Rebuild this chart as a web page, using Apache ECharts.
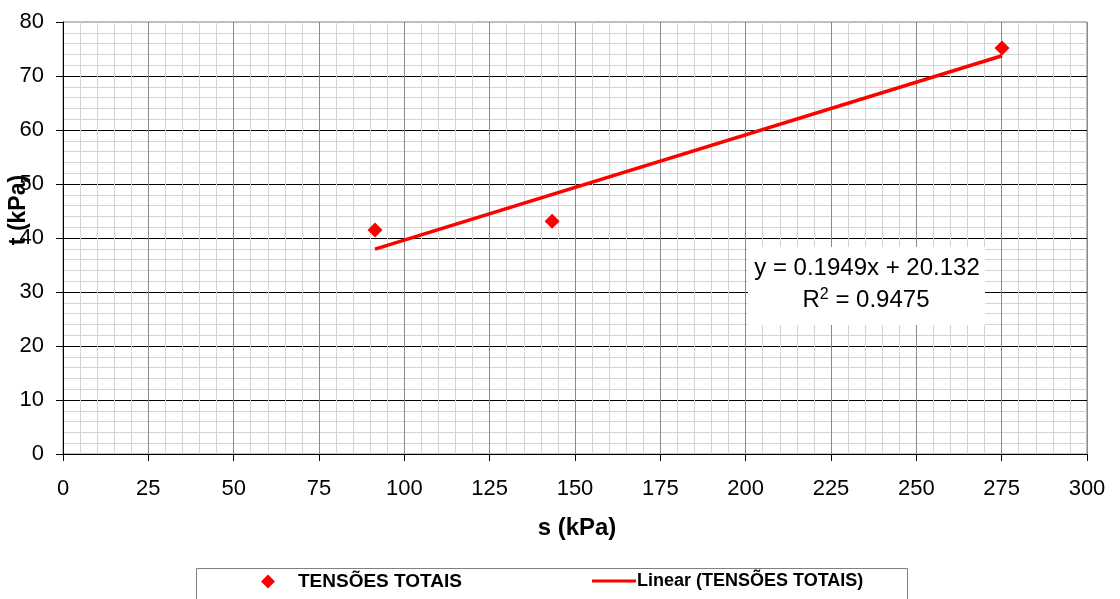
<!DOCTYPE html>
<html>
<head>
<meta charset="utf-8">
<script src="https://cdn.jsdelivr.net/npm/echarts@6/dist/echarts.min.js"></script>
<style>html,body{margin:0;padding:0;background:#fff}#c{width:1120px;height:599px}</style>
</head>
<body>
<div id="c"></div>
<script>
// Data
const sValues = [91.4, 143.3, 275.1];
const tValues = [41.5, 43.1, 75.2];
const seriesName = 'TENSÕES TOTAIS';
const trendName = 'Linear (TENSÕES TOTAIS)';
const trendSlope = 0.1949;
const trendIntercept = 20.132;
const eqLine1 = 'y = 0.1949x + 20.132';
const eqR2 = '0.9475';
const xTitle = 's (kPa)';
const yTitle = 't (kPa)';

const points = sValues.map((s, i) => [s, tValues[i]]);
const xMin = Math.min(...sValues), xMax = Math.max(...sValues);
const trend = [[xMin, trendSlope * xMin + trendIntercept], [xMax, trendSlope * xMax + trendIntercept]];

const font = '"Liberation Sans", Arial, sans-serif';
const chart = echarts.init(document.getElementById('c'));
chart.setOption({
  animation: false,
  backgroundColor: '#fff',
  grid: { left: 63, right: 33, top: 22, bottom: 145, show: true, borderColor: '#808080', borderWidth: 1, backgroundColor: 'transparent' },
  xAxis: {
    type: 'value', min: 0, max: 300, interval: 25,
    axisLine: { show: true, onZero: false, lineStyle: { color: '#000', width: 1 } },
    axisTick: { show: true, length: 7, lineStyle: { color: '#000' } },
    axisLabel: { color: '#000', fontSize: 22, fontFamily: font, margin: 24 },
    splitLine: { show: true, lineStyle: { color: '#8a8a8a', width: 1 } },
    minorTick: { show: false, splitNumber: 5 },
    minorSplitLine: { show: true, lineStyle: { color: '#d4d4d4', width: 1 } }
  },
  yAxis: {
    type: 'value', min: 0, max: 80, interval: 10,
    axisLine: { show: true, onZero: false, lineStyle: { color: '#000', width: 1 } },
    axisTick: { show: true, length: 7, lineStyle: { color: '#000' } },
    axisLabel: { color: '#000', fontSize: 22, fontFamily: font, margin: 19 },
    splitLine: { show: true, showMaxLine: false, lineStyle: { color: '#000', width: 1 } },
    minorTick: { show: false, splitNumber: 5 },
    minorSplitLine: { show: true, lineStyle: { color: '#d4d4d4', width: 1 } }
  },
  legend: [{
    data: [{ name: seriesName, icon: 'diamond' }], left: 261, top: 572, itemWidth: 14, itemHeight: 14,
    textStyle: { fontFamily: font, fontSize: 19, fontWeight: 'bold', color: '#000', padding: [0, 0, 0, 18] },
    padding: 0
  }, {
    data: [{ name: trendName, icon: 'rect' }], left: 592, top: 572, itemWidth: 44, itemHeight: 3,
    textStyle: { fontFamily: font, fontSize: 18, fontWeight: 'bold', color: '#000', padding: [0, 0, 0, -4] },
    padding: 0
  }],
  graphic: [
    { type: 'rect', left: 196, top: 568, shape: { width: 711, height: 40 }, style: { fill: '#fff', stroke: '#808080', lineWidth: 1 }, z: -1 },
    { type: 'text', x: 19, y: 210, rotation: Math.PI / 2, style: { text: yTitle, font: 'bold 23px ' + font, fill: '#000', align: 'center', verticalAlign: 'middle' } },
    { type: 'text', x: 577, y: 528, style: { text: xTitle, font: 'bold 24px ' + font, fill: '#000', align: 'center', verticalAlign: 'middle' } },
    { type: 'rect', shape: { x: 748, y: 247, width: 237, height: 78 }, style: { fill: '#fff', stroke: 'none' }, z: 50 },
    { type: 'text', x: 867, y: 268, z: 51, style: { text: eqLine1, font: '24px ' + font, fill: '#000', align: 'center', verticalAlign: 'middle' } },
    { type: 'text', x: 866, y: 300, z: 51, style: {
      text: '{a|R}{s|2}{a| = ' + eqR2 + '}', align: 'center', verticalAlign: 'middle',
      rich: { a: { fontSize: 24, fontFamily: font, color: '#000' }, s: { fontSize: 16, fontFamily: font, color: '#000', verticalAlign: 'top', padding: [0, 0, 10, 0] } }
    } }
  ],
  series: [{
    name: seriesName, type: 'scatter', data: points, symbol: 'diamond', symbolSize: 15,
    itemStyle: { color: '#ff0000', opacity: 1 }, z: 5
  }, {
    name: trendName, type: 'line', data: trend, symbol: 'none', showSymbol: false,
    lineStyle: { color: '#ff0000', width: 3.5 }, itemStyle: { color: '#ff0000' }, z: 4
  }]
});
</script>
</body>
</html>
